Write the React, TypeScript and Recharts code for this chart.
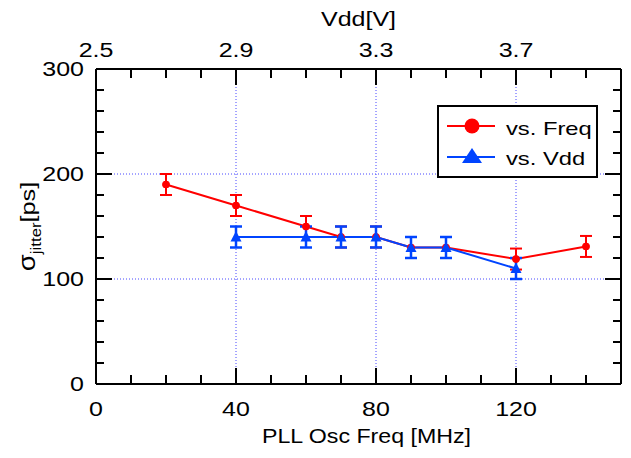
import { ComposedChart, Line, ErrorBar, XAxis, YAxis, CartesianGrid, Legend } from "recharts";

// jitter vs. PLL oscillator frequency (bottom axis)
const freqMHz = [20, 40, 60, 70, 80, 90, 100, 120, 140];
const jitterVsFreq = [190, 170, 150, 140, 140, 130, 130, 119, 131];
const errVsFreq = [10, 10, 10, 10, 10, 10, 10, 10, 10];

// jitter vs. supply voltage (top axis)
const vddV = [2.9, 3.1, 3.2, 3.3, 3.4, 3.5, 3.7];
const jitterVsVdd = [140, 140, 140, 140, 130, 130, 110];
const errVsVdd = [10, 10, 10, 10, 10, 10, 10];

const freqTicks = [0, 10, 20, 30, 40, 50, 60, 70, 80, 90, 100, 110, 120, 130, 140, 150];
const freqLabels = [0, 40, 80, 120];
const vddTicks = [2.5, 2.6, 2.7, 2.8, 2.9, 3.0, 3.1, 3.2, 3.3, 3.4, 3.5, 3.6, 3.7, 3.8, 3.9, 4.0];
const vddLabels = [2.5, 2.9, 3.3, 3.7];
const jitterTicks = [0, 20, 40, 60, 80, 100, 120, 140, 160, 180, 200, 220, 240, 260, 280, 300];
const jitterLabels = [0, 100, 200, 300];

const RED = "#ff0000";
const BLUE = "#0044ff";
const GRID = "#4848ff";
const FONT = "'Liberation Sans', Arial, sans-serif";

const freqData = freqMHz.map((f, i) => ({ freq: f, jitter: jitterVsFreq[i], err: errVsFreq[i] }));
const vddData = vddV.map((v, i) => ({ vdd: v, jitter: jitterVsVdd[i], err: errVsVdd[i] }));

const isLabel = (list: number[], v: number) => list.some((l) => Math.abs(l - v) < 1e-6);

const BottomTick = ({ x, y, payload }: any) => {
  const major = isLabel(freqLabels, payload.value);
  return (
    <g>
      <line x1={x} x2={x} y1={y} y2={y - (major ? 16 : 9)} stroke="#000" strokeWidth={2} />
      {major && (
        <text transform={`translate(${x},${y + 32}) scale(1.25,1)`} textAnchor="middle" fontSize={20} fontFamily={FONT} fill="#000">
          {payload.value}
        </text>
      )}
    </g>
  );
};

const TopTick = ({ x, y, payload }: any) => {
  const major = isLabel(vddLabels, payload.value);
  return (
    <g>
      <line x1={x} x2={x} y1={y} y2={y + (major ? 16 : 9)} stroke="#000" strokeWidth={2} />
      {major && (
        <text transform={`translate(${x},${y - 12}) scale(1.25,1)`} textAnchor="middle" fontSize={20} fontFamily={FONT} fill="#000">
          {payload.value.toFixed(1)}
        </text>
      )}
    </g>
  );
};

const LeftTick = ({ x, y, payload }: any) => {
  const major = isLabel(jitterLabels, payload.value);
  return (
    <g>
      <line x1={x} x2={x + (major ? 16 : 8)} y1={y} y2={y} stroke="#000" strokeWidth={2} />
      {major && (
        <text transform={`translate(${x - 12},${y + 7}) scale(1.25,1)`} textAnchor="end" fontSize={20} fontFamily={FONT} fill="#000">
          {payload.value}
        </text>
      )}
    </g>
  );
};

const RightTick = ({ x, y, payload }: any) => {
  const major = isLabel(jitterLabels, payload.value);
  return <line x1={x} x2={x - (major ? 16 : 8)} y1={y} y2={y} stroke="#000" strokeWidth={2} />;
};

const BottomTitle = ({ viewBox }: any) => (
  <text
    transform={`translate(${viewBox.x + viewBox.width / 2 + 8},${viewBox.y + 59}) scale(1.16,1)`}
    textAnchor="middle"
    fontSize={20}
    fontFamily={FONT}
    fill="#000"
  >
    PLL Osc Freq [MHz]
  </text>
);

const TopTitle = ({ viewBox }: any) => (
  <text
    transform={`translate(${viewBox.x + viewBox.width / 2},${viewBox.y + viewBox.height - 43}) scale(1.25,1)`}
    textAnchor="middle"
    fontSize={20}
    fontFamily={FONT}
    fill="#000"
  >
    Vdd[V]
  </text>
);

const LeftTitle = ({ viewBox }: any) => {
  const cx = viewBox.x + 35 - 56;
  const cy = viewBox.y + viewBox.height / 2;
  return (
    <text transform={`translate(${cx},${cy}) rotate(-90) scale(1.2,1)`} textAnchor="middle" fontSize={21} fontFamily={FONT} fill="#000">
      <tspan fontSize={23}>σ</tspan>
      <tspan fontSize={14} dy={6}>jitter</tspan>
      <tspan dy={-6}>[ps]</tspan>
    </text>
  );
};

const renderTriangle = (props: any) => {
  const { cx, cy, index } = props;
  return (
    <path key={`tri-${index}`} d={`M${cx},${cy - 6} L${cx + 5.5},${cy + 4.5} L${cx - 5.5},${cy + 4.5} Z`} fill={BLUE} />
  );
};

const LegendBox = () => (
  <svg width={162} height={74} style={{ display: "block" }}>
    <rect x={1} y={1} width={159} height={71} fill="#fff" stroke="#000" strokeWidth={2} />
    <line x1={10} x2={58} y1={21} y2={21} stroke={RED} strokeWidth={2} />
    <circle cx={35} cy={21} r={7.5} fill={RED} />
    <text transform="translate(69,30) scale(1.25,1)" fontSize={19} fontFamily={FONT} fill="#000">
      vs. Freq
    </text>
    <line x1={10} x2={58} y1={52} y2={52} stroke={BLUE} strokeWidth={2} />
    <path d="M35,43 L45,58 L25,58 Z" fill={BLUE} />
    <text transform="translate(69,60) scale(1.25,1)" fontSize={19} fontFamily={FONT} fill="#000">
      vs. Vdd
    </text>
  </svg>
);

export default function App() {
  return (
    <div style={{ position: "absolute", left: 0, top: 0, width: 631, height: 458, background: "#fff" }}>
      <ComposedChart width={631} height={458} margin={{ top: 39, right: 0, bottom: 44, left: 56 }}>
        <CartesianGrid
          xAxisId="bottom"
          yAxisId="left"
          horizontalValues={[100, 200]}
          verticalValues={[40, 80, 120]}
          stroke={GRID}
          strokeDasharray="1 2"
          strokeWidth={1}
        />
        <XAxis
          xAxisId="bottom"
          dataKey="freq"
          type="number"
          domain={[0, 150]}
          allowDataOverflow
          ticks={freqTicks}
          interval={0}
          height={30}
          tickSize={0}
          tickMargin={0}
          tickLine={false}
          tick={BottomTick}
          axisLine={{ stroke: "#000", strokeWidth: 2 }}
          label={{ content: BottomTitle }}
        />
        <XAxis
          xAxisId="top"
          orientation="top"
          dataKey="vdd"
          type="number"
          domain={[2.5, 4.0]}
          allowDataOverflow
          ticks={vddTicks}
          interval={0}
          height={30}
          tickSize={0}
          tickMargin={0}
          tickLine={false}
          tick={TopTick}
          axisLine={{ stroke: "#000", strokeWidth: 2 }}
          label={{ content: TopTitle }}
        />
        <YAxis
          yAxisId="left"
          type="number"
          domain={[0, 300]}
          allowDataOverflow
          ticks={jitterTicks}
          interval={0}
          width={40}
          tickSize={0}
          tickMargin={0}
          tickLine={false}
          tick={LeftTick}
          axisLine={{ stroke: "#000", strokeWidth: 2 }}
          label={{ content: LeftTitle }}
        />
        <YAxis
          yAxisId="right"
          orientation="right"
          type="number"
          domain={[0, 300]}
          allowDataOverflow
          ticks={jitterTicks}
          interval={0}
          width={10}
          tickSize={0}
          tickMargin={0}
          tickLine={false}
          tick={RightTick}
          axisLine={{ stroke: "#000", strokeWidth: 2 }}
        />
        <Legend
          layout="vertical"
          align="center"
          verticalAlign="middle"
          wrapperStyle={{ left: 437, top: 105, width: 162, height: 74 }}
          content={LegendBox}
        />
        <Line
          xAxisId="bottom"
          yAxisId="left"
          data={freqData}
          dataKey="jitter"
          name="vs. Freq"
          stroke={RED}
          strokeWidth={2}
          dot={{ r: 3.5, fill: RED, stroke: RED, strokeWidth: 1 }}
          activeDot={false}
          isAnimationActive={false}
        >
          <ErrorBar dataKey="err" direction="y" width={6} strokeWidth={2} stroke={RED} isAnimationActive={false} />
        </Line>
        <Line
          xAxisId="top"
          yAxisId="left"
          data={vddData}
          dataKey="jitter"
          name="vs. Vdd"
          stroke={BLUE}
          strokeWidth={2}
          dot={renderTriangle}
          activeDot={false}
          isAnimationActive={false}
        >
          <ErrorBar dataKey="err" direction="y" width={6} strokeWidth={2.5} stroke={BLUE} isAnimationActive={false} />
        </Line>
      </ComposedChart>
    </div>
  );
}
